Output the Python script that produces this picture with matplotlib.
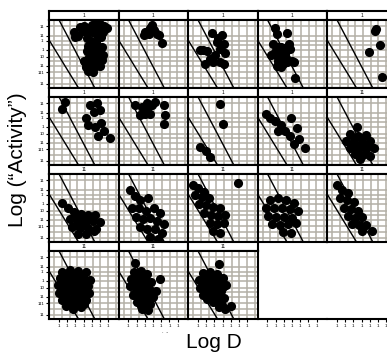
import matplotlib
matplotlib.use("Agg")
import matplotlib.pyplot as plt

plt.rcParams["font.family"] = ["Liberation Sans", "DejaVu Sans"]

# ---- data: (Log D, Log "Activity") per panel, panels ordered row by row ----
p01_x = [5.0, 5.5, 6.0, 6.5, 6.8, 5.3, 5.9, 6.4, 5.6, 6.1, 5.0, 3.6, 4.1, 4.6, 4.3, 3.9, 2.9, 3.3, 3.0,
         4.4, 4.9, 5.5, 4.6, 5.2, 5.8, 4.4, 5.0, 5.6, 6.0, 4.7, 5.4, 4.0, 4.5, 5.1, 5.7, 6.2, 4.3, 4.9,
         5.5, 6.0, 4.6, 5.2, 6.3, 6.4]
p01_y = [7.6, 7.8, 7.7, 7.5, 7.2, 7.0, 7.1, 6.8, 6.4, 6.2, 6.7, 7.3, 7.5, 7.2, 6.7, 6.9, 6.7, 6.3, 6.1,
         6.0, 5.7, 5.6, 5.1, 5.0, 4.8, 4.5, 4.3, 4.1, 4.4, 3.7, 3.6, 3.3, 3.0, 3.1, 3.2, 3.4, 2.5, 2.4,
         2.6, 2.7, 2.0, 1.9, 4.9, 4.0]
p02_x = [3.04, 3.86, 3.45, 4.06, 4.48, 4.67, 5.09, 3.66, 2.92]
p02_y = [6.77, 7.59, 6.57, 6.98, 6.57, 6.36, 5.42, 7.22, 6.45]
p03_x = [2.70, 3.92, 1.60, 2.16, 3.31, 4.12, 3.72, 3.10, 2.49, 1.88, 2.90, 3.72, 4.12, 1.27, 4.33, 3.47]
p03_y = [6.69, 6.45, 4.53, 4.44, 5.54, 5.35, 4.74, 3.92, 3.51, 2.90, 3.10, 3.10, 2.90, 4.53, 4.28, 6.00]
p04_x = [1.94, 2.15, 3.37, 1.73, 2.35, 1.94, 2.76, 3.57, 3.78, 2.96, 2.35, 3.37, 4.18, 2.15, 2.96, 1.42,
         4.39, 3.98, 3.17, 2.5, 2.6, 3.0, 2.2, 3.3, 2.7]
p04_y = [7.18, 6.57, 6.69, 5.35, 4.93, 4.32, 4.53, 5.35, 4.74, 3.71, 3.30, 3.10, 3.10, 2.69, 2.90, 3.92,
         1.26, 3.30, 4.12, 4.1, 5.0, 4.8, 3.8, 3.6, 2.5]
p05_x = [5.68, 5.75, 6.29, 4.94, 6.50]
p05_y = [6.89, 7.10, 5.14, 4.32, 1.35]
p06_x = [1.76, 1.35, 4.82, 5.68, 6.04, 5.31, 4.33, 4.57, 5.43, 6.16, 6.53, 5.80, 7.27]
p06_y = [7.62, 6.81, 7.22, 7.47, 6.61, 6.36, 5.63, 4.77, 4.53, 5.02, 4.16, 3.55, 3.30]
p07_x = [1.82, 2.64, 3.25, 3.86, 3.04, 2.43, 3.66, 5.28, 5.49, 5.28, 3.29, 4.27]
p07_y = [7.22, 7.01, 7.43, 7.22, 6.20, 6.00, 6.20, 7.22, 6.00, 4.98, 6.61, 7.59]
p08_x = [3.72, 4.08, 1.27, 2.00, 2.49]
p08_y = [7.34, 4.90, 2.20, 1.71, 0.98]
p09_x = [0.84, 1.33, 1.94, 2.68, 3.90, 4.63, 3.17, 3.78, 4.88, 4.27, 5.61, 2.31]
p09_y = [6.12, 5.63, 5.26, 4.77, 5.63, 4.41, 4.04, 3.55, 3.18, 2.57, 2.08, 4.16]
p10_x = [3.47, 2.62, 3.59, 4.57, 2.13, 3.10, 4.08, 5.06, 2.62, 3.59, 4.57, 5.55, 3.23, 4.21, 5.06, 3.84,
         3.1, 4.1, 2.9, 3.9, 4.8]
p10_y = [4.53, 3.79, 3.55, 3.67, 2.94, 2.81, 2.69, 2.94, 2.08, 1.96, 1.96, 2.08, 1.35, 1.22, 1.10, 0.73,
         3.3, 3.2, 2.4, 2.4, 2.5]
p11_x = [1.39, 2.13, 2.86, 3.72, 4.57, 5.43, 2.37, 3.35, 4.33, 5.19, 6.04, 2.62, 3.59, 4.57, 5.55,
         3.35, 4.33, 5.31, 3.0, 3.9, 4.8, 3.1, 4.0]
p11_y = [4.65, 4.04, 3.67, 3.43, 3.30, 3.30, 2.81, 2.57, 2.57, 2.57, 2.45, 1.84, 1.71, 1.71, 1.59,
         0.98, 0.98, 1.35, 3.0, 2.9, 2.9, 2.1, 2.1]
p12_x = [1.21, 1.82, 2.43, 3.41, 1.45, 2.31, 3.17, 4.15, 4.88, 1.94, 2.80, 3.66, 4.51, 5.37, 2.43,
         3.29, 4.27, 5.12, 3.66, 4.63]
p12_y = [6.24, 5.51, 5.02, 5.26, 4.16, 4.04, 3.79, 4.16, 3.55, 3.06, 2.81, 2.94, 2.57, 2.20, 1.84,
         1.59, 1.59, 1.10, 0.61, 0.37]
p13_x = [0.41, 1.02, 1.76, 0.66, 1.51, 2.37, 1.15, 2.00, 2.86, 3.72, 1.76, 2.62, 3.47, 4.33, 2.49,
         3.35, 4.21, 2.86, 3.72, 5.92]
p13_y = [6.85, 6.49, 6.00, 5.63, 5.38, 5.26, 4.53, 4.41, 4.28, 4.04, 3.55, 3.30, 3.18, 3.30, 2.32,
         2.20, 2.32, 1.35, 1.10, 7.10]
p14_x = [1.33, 2.31, 3.29, 4.27, 0.84, 1.82, 2.80, 3.78, 4.76, 1.09, 2.06, 3.04, 4.02, 1.57, 2.55,
         3.53, 4.51, 2.92, 3.90]
p14_y = [5.02, 5.26, 5.02, 4.65, 4.16, 4.16, 4.04, 3.92, 3.79, 3.18, 3.06, 3.06, 2.94, 2.20, 2.08,
         2.20, 2.32, 1.22, 1.10]
p15_x = [1.02, 1.64, 2.37, 1.39, 2.25, 3.10, 1.88, 2.74, 3.59, 2.37, 3.23, 4.08, 2.86, 3.72, 4.57,
         5.31, 4.08]
p15_y = [6.85, 6.24, 5.87, 5.26, 5.02, 4.77, 4.16, 3.92, 3.79, 3.18, 2.94, 3.06, 2.20, 2.08, 2.08,
         1.35, 1.35]
p16_x = [1.39, 2.37, 3.35, 4.33, 1.15, 2.00, 2.98, 3.96, 4.82, 0.90, 1.76, 2.74, 3.72, 4.57, 1.02,
         1.88, 2.86, 3.84, 4.70, 1.39, 2.37, 3.35, 4.33, 1.88, 2.74, 3.72, 4.08,
         1.8, 2.9, 3.9, 1.5, 2.5, 3.4, 4.3, 1.3, 2.3, 3.3, 4.2, 1.8, 2.8, 3.8, 2.3, 3.2]
p16_y = [5.63, 5.87, 5.75, 5.63, 4.90, 4.90, 4.90, 4.77, 4.65, 4.04, 4.04, 3.92, 3.92, 3.92, 3.18,
         3.18, 3.06, 3.06, 3.18, 2.32, 2.32, 2.20, 2.32, 1.59, 1.22, 1.47, 1.84,
         5.3, 5.3, 5.2, 4.4, 4.4, 4.3, 4.3, 3.6, 3.5, 3.5, 3.5, 2.7, 2.7, 2.7, 1.9, 1.8]
p17_x = [1.82, 4.88, 4.39, 1.70, 2.55, 3.29, 1.33, 2.19, 3.04, 3.78, 1.21, 2.06, 2.92, 3.66, 1.57,
         2.43, 3.29, 4.02, 2.06, 2.92, 3.66, 2.68, 3.41,
         2.2, 3.0, 1.7, 2.6, 3.4, 1.9, 2.8, 3.6, 2.3, 3.2, 2.5, 3.1]
p17_y = [6.73, 4.77, 3.43, 5.63, 5.75, 5.38, 4.77, 4.77, 4.65, 4.41, 3.92, 3.79, 3.79, 3.55, 2.94,
         2.94, 2.81, 2.69, 2.08, 1.96, 1.84, 1.22, 1.10,
         5.2, 5.0, 4.3, 4.3, 4.1, 3.4, 3.3, 3.2, 2.5, 2.4, 1.6, 1.5]
p18_x = [3.59, 1.64, 2.49, 3.35, 4.08, 1.15, 2.00, 2.86, 3.72, 4.45, 1.27, 2.13, 2.98, 3.84, 1.64,
         2.49, 3.35, 4.21, 2.86, 3.84, 4.33, 5.06,
         2.0, 2.9, 3.7, 1.6, 2.5, 3.3, 4.1, 1.7, 2.6, 3.5, 2.1, 3.0, 3.7, 3.6]
p18_y = [6.61, 5.51, 5.63, 5.38, 4.90, 4.65, 4.65, 4.53, 4.28, 4.04, 3.79, 3.67, 3.55, 3.43, 2.94,
         2.81, 2.69, 2.57, 2.08, 1.84, 1.22, 1.59,
         5.1, 5.0, 4.8, 4.2, 4.1, 4.0, 3.8, 3.3, 3.2, 3.1, 2.4, 2.3, 2.1, 1.5]

panel_x = [p01_x, p02_x, p03_x, p04_x, p05_x, p06_x, p07_x, p08_x, p09_x,
           p10_x, p11_x, p12_x, p13_x, p14_x, p15_x, p16_x, p17_x, p18_x]
panel_y = [p01_y, p02_y, p03_y, p04_y, p05_y, p06_y, p07_y, p08_y, p09_y,
           p10_y, p11_y, p12_y, p13_y, p14_y, p15_y, p16_y, p17_y, p18_y]
strip_labels = ["1"] * 9 + ["11"] * 9

# reference diagonals (same in every panel), given by their end points
line_lo_x = [-0.2, 3.39]
line_lo_y = [5.8, 0.0]
line_hi_x = [1.02, 5.37]
line_hi_y = [8.2, 0.0]

x_ticks = [1, 2, 3, 4, 5, 6, 7]
x_tick_labels = ["1"] * 7
y_ticks = [7.47, 6.33, 5.72, 4.61, 3.79, 2.69, 1.87, 0.53]
y_tick_labels = ["11", "11", "1'", "1", "10", "11", "111", "11"]

# ---- layout ----
W, H = 387, 356
fig = plt.figure(figsize=(W / 100, H / 100), dpi=100)

XLIM = (-0.2, 8.25)
YLIM = (0.0, 8.2)
grid_x = [0.45, 1.38, 2.31, 3.24, 4.17, 5.10, 6.03, 6.96, 7.89]
grid_y = [7.47, 6.33, 5.72, 5.15, 4.61, 3.79, 3.25, 2.69, 1.87, 1.2, 0.53]
GRID_C = "#b3afa6"

col_left0, col_w = 49, 69.5
row_top0, row_pitch, strip_h = 11, 77, 9
plot_h = row_pitch - strip_h
ncols = 5


def fig_rect(left_px, top_px, w_px, h_px):
    return [left_px / W, 1 - (top_px + h_px) / H, w_px / W, h_px / H]


def style_ticks(ax, row, col, nrows_last):
    ax.tick_params(axis="both", which="major", length=2.5, width=0.8, pad=1,
                   labelsize=3.2, colors="black")
    ax.set_xticks(x_ticks)
    ax.set_yticks(y_ticks)
    if row == nrows_last:
        ax.set_xticklabels(x_tick_labels)
    else:
        ax.tick_params(axis="x", length=0, labelbottom=False)
    if col == 0:
        ax.set_yticklabels(y_tick_labels)
    else:
        ax.tick_params(axis="y", length=0, labelleft=False)


n_panels = len(panel_x)
last_row = (n_panels - 1) // ncols
for i in range(n_panels):
    row, col = divmod(i, ncols)
    left = col_left0 + col * col_w
    top = row_top0 + row * row_pitch

    # strip with the panel label
    sax = fig.add_axes(fig_rect(left, top, col_w, strip_h))
    sax.set_xticks([])
    sax.set_yticks([])
    sax.set_facecolor("white")
    for s in sax.spines.values():
        s.set_linewidth(1.5)
    sax.text(0.5, 0.5, strip_labels[i], ha="center", va="center", fontsize=3.4,
             transform=sax.transAxes)

    ax = fig.add_axes(fig_rect(left, top + strip_h, col_w, plot_h))
    ax.set_xlim(*XLIM)
    ax.set_ylim(*YLIM)
    for gx in grid_x:
        ax.axvline(gx, color=GRID_C, lw=1.1, zorder=0)
    for gy in grid_y:
        ax.axhline(gy, color=GRID_C, lw=1.1, zorder=0)
    ax.plot(line_lo_x, line_lo_y, color="black", lw=1.0, zorder=2)
    ax.plot(line_hi_x, line_hi_y, color="black", lw=1.0, zorder=2)
    ax.plot(panel_x[i], panel_y[i], "o", color="black", ms=6.6, mec="black",
            mew=0, zorder=3, clip_on=True)
    for s in ax.spines.values():
        s.set_linewidth(1.5)
    style_ticks(ax, row, col, last_row)

# bare x axes under the empty slots of the last row
for col in range(n_panels % ncols, ncols):
    left = col_left0 + col * col_w
    top = row_top0 + last_row * row_pitch
    ax = fig.add_axes(fig_rect(left, top + strip_h, col_w, plot_h))
    ax.set_xlim(*XLIM)
    ax.set_ylim(*YLIM)
    ax.patch.set_alpha(0)
    for name in ("top", "left", "right"):
        ax.spines[name].set_visible(False)
    ax.spines["bottom"].set_linewidth(1.5)
    ax.set_yticks([])
    ax.set_xticks(x_ticks)
    ax.set_xticklabels(x_tick_labels)
    ax.tick_params(axis="x", length=2.5, width=0.8, pad=1, labelsize=3.2)

fig.text(165 / W, 1 - 332 / H, "·  -", fontsize=3.5, ha="center", va="center")
fig.text(214 / W, 1 - 343 / H, "Log D", fontsize=15, ha="center", va="center")
fig.text(18 / W, 1 - 160 / H, "Log (\u201cActivity\u201d)", fontsize=15, rotation=90,
         ha="center", va="center")

fig.savefig("out.png", dpi=100)
